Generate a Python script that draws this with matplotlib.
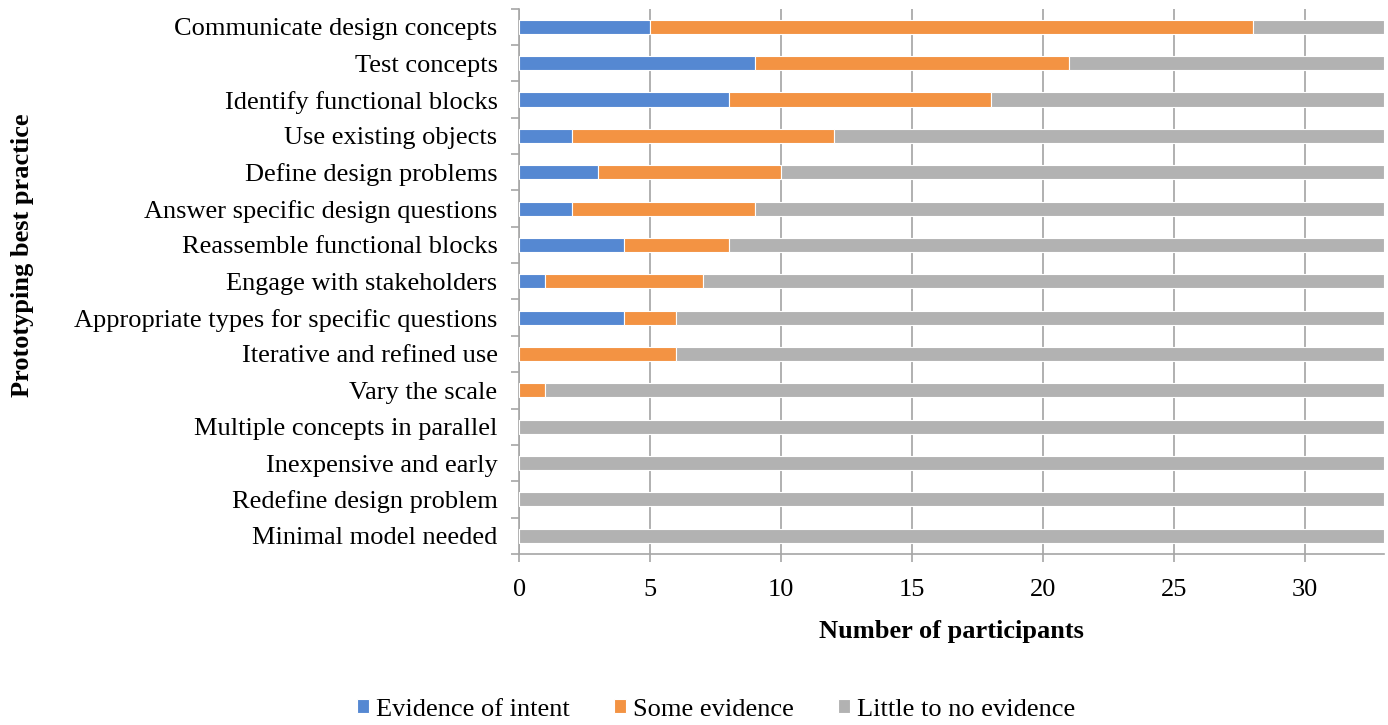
import matplotlib
matplotlib.use("Agg")
import matplotlib.pyplot as plt
import numpy as np

practices = [
    "Communicate design concepts",
    "Test concepts",
    "Identify functional blocks",
    "Use existing objects",
    "Define design problems",
    "Answer specific design questions",
    "Reassemble functional blocks",
    "Engage with stakeholders",
    "Appropriate types for specific questions",
    "Iterative and refined use",
    "Vary the scale",
    "Multiple concepts in parallel",
    "Inexpensive and early",
    "Redefine design problem",
    "Minimal model needed",
]
intent = [5, 9, 8, 2, 3, 2, 4, 1, 4, 0, 0, 0, 0, 0, 0]
some = [23, 12, 10, 10, 7, 7, 4, 6, 2, 6, 1, 0, 0, 0, 0]
little = [5, 12, 15, 21, 23, 24, 25, 26, 27, 27, 32, 33, 33, 33, 33]

series = [
    ("Evidence of intent", intent, "#5588d2"),
    ("Some evidence", some, "#f39343"),
    ("Little to no evidence", little, "#b2b2b2"),
]

plt.rcParams["font.family"] = ["Liberation Serif", "DejaVu Serif"]
FS = 19

fig = plt.figure(figsize=(13.88, 7.25), dpi=100)
ax = fig.add_axes([0.374, 0.236, 0.623, 0.752])

y = np.arange(len(practices))
left = np.zeros(len(practices))
handles = []
for name, vals, col in series:
    vals = np.array(vals, dtype=float)
    h = ax.barh(y, vals, left=left, height=0.39, color=col,
                edgecolor="white", linewidth=0.8, label=name, zorder=3)
    handles.append(h)
    left += vals

ax.set_xlim(0, 33)
ax.set_ylim(len(practices) - 0.5, -0.5)
ax.set_xticks(np.arange(0, 31, 5))
ax.set_yticks(y)
ax.set_yticklabels(practices, fontsize=FS)
ax.set_yticks(np.arange(-0.5, len(practices), 1), minor=True)
ax.tick_params(axis="y", which="major", length=0, pad=15.5)
ax.tick_params(axis="y", which="minor", length=6, color="#a6a6a6", width=1.2)
ax.tick_params(axis="x", which="major", length=6, color="#a6a6a6", width=1.2,
               labelsize=FS, pad=12)

ax.grid(axis="x", color="#b0b0b0", linewidth=1.4, zorder=0)
for s in ["top", "right"]:
    ax.spines[s].set_visible(False)
for s in ["left", "bottom"]:
    ax.spines[s].set_color("#a6a6a6")
    ax.spines[s].set_linewidth(1.2)

ax.set_xlabel("Number of participants", fontsize=FS, fontweight="bold", labelpad=14)
fig.text(0.016, 0.648, "Prototyping best practice", rotation=90, fontsize=FS,
         fontweight="bold", ha="center", va="center")

fig.legend(handles=handles, loc="center", bbox_to_anchor=(0.516, 0.021), ncol=3,
           frameon=False, fontsize=FS, handlelength=0.45, handleheight=0.45,
           handletextpad=0.25, columnspacing=1.7)

fig.savefig("out.png", dpi=100)
